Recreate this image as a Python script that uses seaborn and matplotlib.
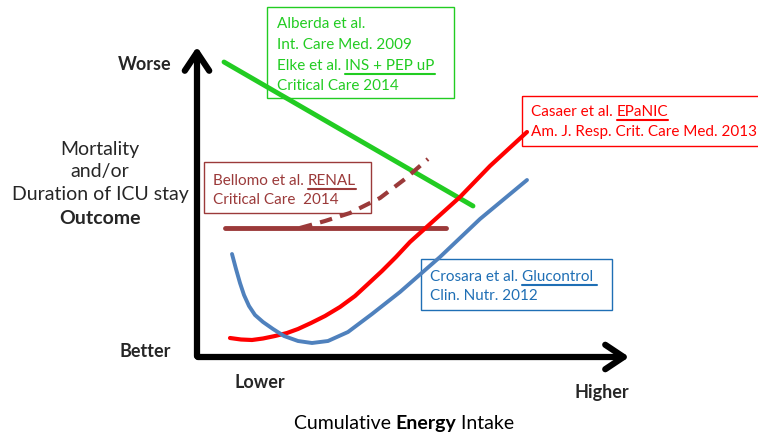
import matplotlib
matplotlib.use("Agg")
import matplotlib.pyplot as plt
import seaborn as sns
from matplotlib.patches import Rectangle, FancyArrowPatch

sns.set_style("white")
plt.rcParams["font.family"] = ["Lato", "DejaVu Sans"]

# conceptual curves, in picture units (x right, y down)
green_x = [224, 473]
green_y = [63, 207]
red_x = [230, 241, 252, 263, 275, 287, 298, 311, 325, 340, 355, 368, 382, 396, 410, 430, 460, 490, 527]
red_y = [339, 340.5, 341, 339.5, 337, 334, 330, 324, 317, 308, 297, 285, 272, 258, 243, 225, 198, 167, 133]
blue_x = [232, 236, 240, 244, 249, 255, 263, 273, 284, 298, 312, 328, 348, 372, 400, 440, 480, 527]
blue_y = [255, 270, 284, 296, 307, 316, 323, 330, 337, 342, 344, 342, 333, 315, 293, 258, 220, 181]
renal_x = [225, 446]
renal_y = [229, 229]
renal_dash_x = [300, 325, 350, 380, 405, 428]
renal_dash_y = [229, 222, 214, 199, 180, 160]

GREEN = "#22cc22"
RED = "#ff0000"
BROWN = "#9b3a3a"
BLUE = "#4f81bd"
BLUE_TXT = "#1f6fb5"

fig = plt.figure(figsize=(7.58, 4.35), dpi=100)
ax = fig.add_axes([0, 0, 1, 1])
ax.set_xlim(0, 758)
ax.set_ylim(435, 0)
ax.axis("off")

# axes arrows
ax.add_patch(FancyArrowPatch((197, 360), (197, 45), arrowstyle="->,head_length=6,head_width=4",
                             lw=4.5, color="black", mutation_scale=2.2))
ax.add_patch(FancyArrowPatch((195, 358), (632, 358), arrowstyle="->,head_length=6,head_width=4",
                             lw=4.5, color="black", mutation_scale=2.2))

sns.lineplot(x=green_x, y=green_y, ax=ax, color=GREEN, lw=3.5, sort=False)
sns.lineplot(x=renal_x, y=renal_y, ax=ax, color=BROWN, lw=3.5, sort=False)
sns.lineplot(x=renal_dash_x, y=renal_dash_y, ax=ax, color=BROWN, lw=3, sort=False,
             linestyle=(0, (3, 2)))
sns.lineplot(x=red_x, y=red_y, ax=ax, color=RED, lw=3, sort=False)
sns.lineplot(x=blue_x, y=blue_y, ax=ax, color=BLUE, lw=2.8, sort=False)

fs = 11
# axis labels
ax.text(145, 65, "Worse", fontsize=13, fontweight="bold", ha="center", va="center")
ax.text(145, 352, "Better", fontsize=13, fontweight="bold", ha="center", va="center")
ax.text(260, 383, "Lower", fontsize=13, fontweight="bold", ha="center", va="center")
ax.text(602, 393, "Higher", fontsize=13, fontweight="bold", ha="center", va="center")
for yy, s in [(150, "Mortality"), (172, "and/or"), (195, "Duration of ICU stay")]:
    ax.text(100, yy, s, fontsize=14, ha="center", va="center")
ax.text(100, 219, "Outcome", fontsize=14, fontweight="bold", ha="center", va="center")

# boxes
boxes = [
    ((267, 8), 187, 91, GREEN),
    ((522, 97), 240, 50, RED),
    ((204, 163), 167, 51, BROWN),
    ((421, 260), 191, 51, BLUE_TXT),
]
for (x0, y0), w, h, c in boxes:
    ax.add_patch(Rectangle((x0, y0), w, h, fill=False, edgecolor=c, lw=1))

fig.canvas.draw()
renderer = fig.canvas.get_renderer()
inv = ax.transData.inverted()


def write(x, y, parts, color, size=fs):
    # parts: list of (text, underline, bold)
    cur = x
    for s, under, bold in parts:
        t = ax.text(cur, y, s, fontsize=size, color=color, va="center", ha="left",
                    fontweight="bold" if bold else "normal")
        bb = t.get_window_extent(renderer)
        (x0, _), (x1, _) = inv.transform([[bb.x0, bb.y0], [bb.x1, bb.y1]])
        if under:
            ax.plot([x0, x1], [y + 9, y + 9], color=color, lw=1.5)
        cur = x1
    return cur


write(277, 24, [("Alberda et al.", False, False)], GREEN)
write(277, 45, [("Int. Care Med. 2009", False, False)], GREEN)
write(277, 66, [("Elke et al. ", False, False), ("INS + PEP uP", True, False)], GREEN)
write(277, 86, [("Critical Care 2014", False, False)], GREEN)

write(531, 112, [("Casaer et al. ", False, False), ("EPaNIC", True, False)], RED)
write(531, 132, [("Am. J. Resp. Crit. Care Med. 2013", False, False)], RED)

write(213, 181, [("Bellomo et al. ", False, False), ("RENAL", True, False)], BROWN)
write(213, 200, [("Critical Care  2014", False, False)], BROWN)

write(430, 277, [("Crosara et al. ", False, False), ("Glucontrol ", True, False)], BLUE_TXT)
write(430, 296, [("Clin. Nutr. 2012", False, False)], BLUE_TXT)

# bottom title with bold middle word, centred
probe = [("Cumulative ", False), ("Energy", True), (" Intake", False)]
total = 0
for s, b in probe:
    t = ax.text(0, 0, s, fontsize=14, fontweight="bold" if b else "normal")
    bb = t.get_window_extent(renderer)
    total += bb.width
    t.remove()
start = 404 - total / 2
write(start, 424, [(s, False, b) for s, b in probe], "black", size=14)

fig.savefig("out.png", dpi=100)
